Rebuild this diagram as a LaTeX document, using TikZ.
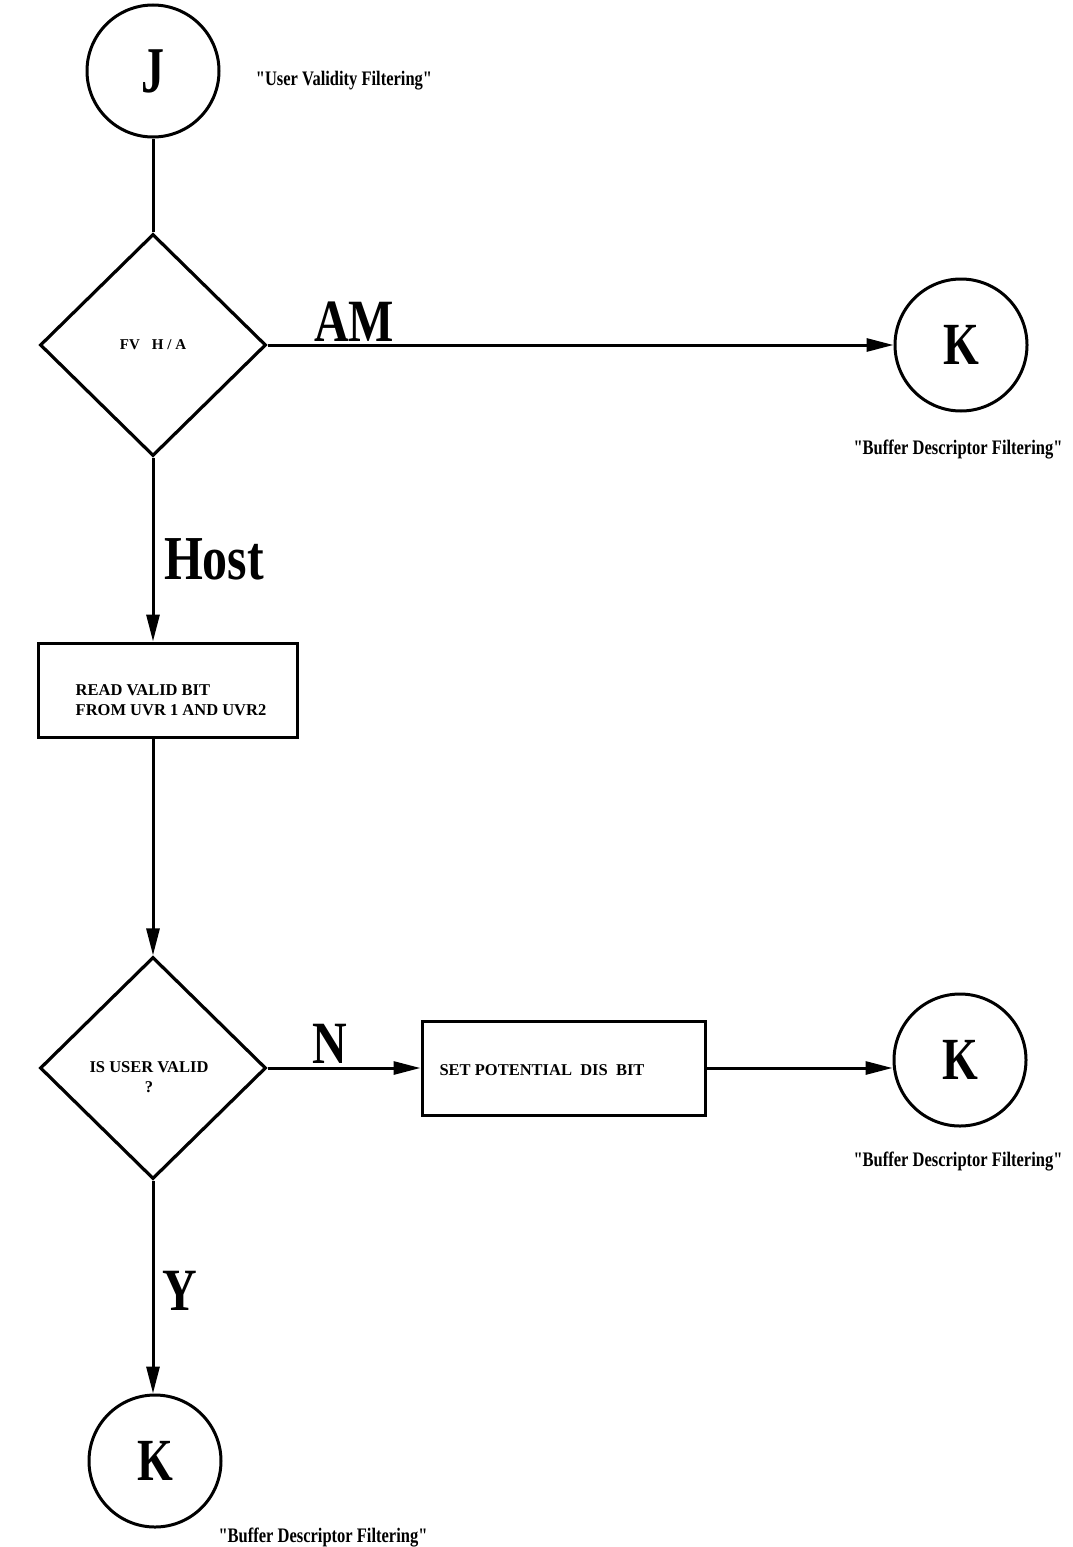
\documentclass[tikz,border=0pt]{standalone}
\usepackage{fontspec}
\setmainfont{Liberation Serif}[Ligatures=TeXOff]
\usepackage{graphicx}
\usetikzlibrary{shapes.geometric,arrows.meta}
\newcommand{\tallbox}[2][1.25]{\scalebox{1}[#1]{#2}}
\begin{document}
\begin{tikzpicture}[x=1pt,y=-1pt, line width=3pt, font=\bfseries,
  conn/.style={draw, line width=3pt},
  arr/.style={conn, -{Triangle[length=27pt,width=13pt]}},
  circ/.style={circle, draw, line width=3pt, minimum size=132pt, inner sep=0pt},
  dec/.style={diamond, draw, line width=3.2pt, minimum width=226pt, minimum height=222pt, inner sep=0pt},
  box/.style={rectangle, draw, line width=3pt, minimum height=94pt, inner sep=0pt},
  small/.style={font=\fontsize{16.5}{20}\bfseries\selectfont, inner sep=0pt},
  big/.style={font=\fontsize{48}{50}\bfseries\selectfont, inner sep=0pt, anchor=base},
  note/.style={font=\fontsize{16.5}{20}\bfseries\selectfont, inner sep=0pt, anchor=base},
  letter/.style={font=\fontsize{46}{46}\bfseries\selectfont}
]
\fill[white] (0,0) rectangle (1072,1547);
\useasboundingbox (0,0) rectangle (1072,1547);

% nodes
\node[circ, letter] (J) at (153,71) {\tallbox[1.42]{J}};
\node[note] (tJ) at (344,85) {\tallbox{"User Validity Filtering"}};

\node[dec, font=\fontsize{15}{18}\bfseries\selectfont] (D1) at (153,345) {FV\hspace{12pt}H / A};

\node[circ, letter] (K1) at (961,345) {\tallbox[1.3]{K}};
\node[note] (tK1) at (958,454) {\tallbox{"Buffer Descriptor Filtering"}};

\node[box, minimum width=259pt] (R1) at (167.5,690) {};
\node[small, align=left] (tR1) at (171,700) {READ VALID BIT\\FROM UVR 1 AND UVR2};

\node[dec] (D2) at (153,1068) {};
\node[small, align=center] (tD2) at (149,1077) {IS USER VALID\\?};

\node[box, minimum width=283pt] (R2) at (563.5,1068) {};
\node[small] (tR2) at (542,1070) {SET POTENTIAL\ \ DIS\ \ BIT};

\node[circ, letter] (K2) at (960,1060) {\tallbox[1.3]{K}};
\node[note] (tK2) at (958,1166) {\tallbox{"Buffer Descriptor Filtering"}};

\node[circ, letter] (K3) at (155,1461) {\tallbox[1.3]{K}};
\node[note, anchor=base west] (tK3) at (217,1542) {\tallbox{"Buffer Descriptor Filtering"}};

% connector labels
\node[big] (lAM) at (354,341) {\tallbox{AM}};
\node[big, font=\fontsize{50}{52}\bfseries\selectfont] (lHost) at (214,579) {\tallbox{Host}};
\node[big] (lN) at (330,1063) {\tallbox{N}};
\node[big] (lY) at (180,1310) {\tallbox{Y}};

% connectors
\draw[conn] (J.south) -- (D1.north);
\draw[arr] (D1.east) -- (K1.west);
\draw[arr] (D1.south) -- (D1.south |- R1.north);
\draw[arr] (D1.south |- R1.south) -- (D2.north);
\draw[arr] (D2.east) -- (R2.west);
\draw[arr] (R2.east) -- (R2.east -| K2.west);
\draw[arr] (D2.south) -- (D2.south |- K3.north);
\end{tikzpicture}
\end{document}
